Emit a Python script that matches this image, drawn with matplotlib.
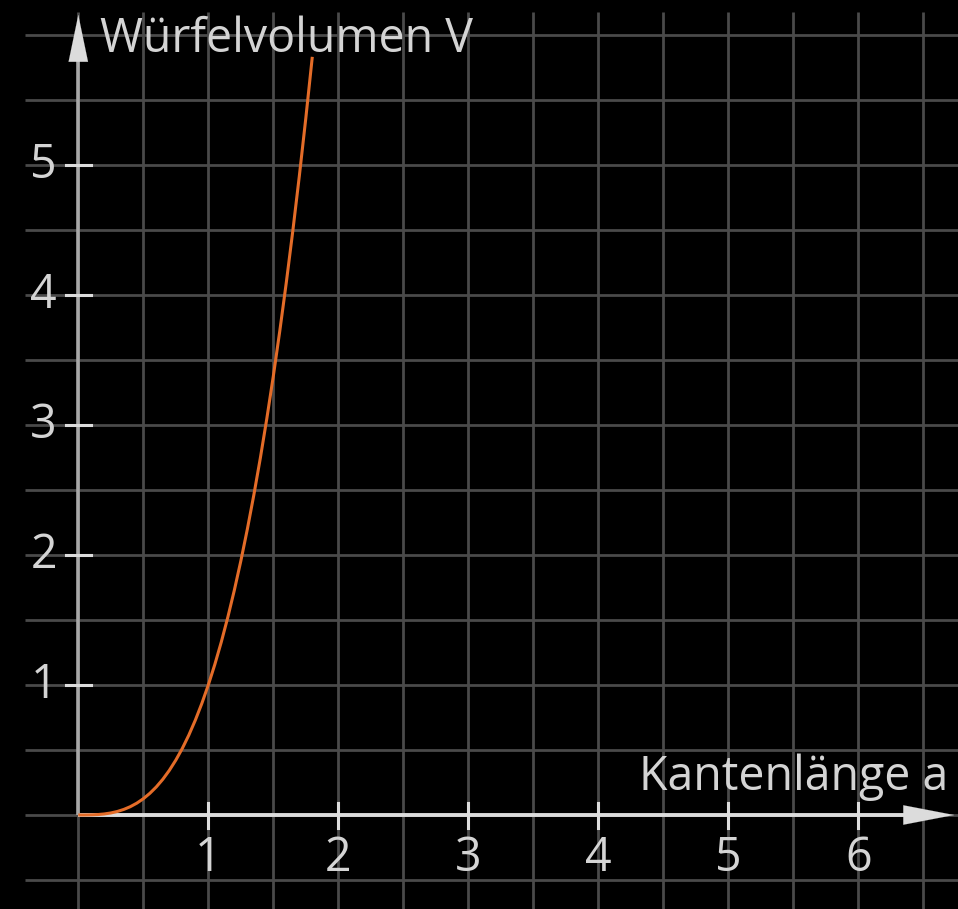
import matplotlib
matplotlib.use("Agg")
import matplotlib.pyplot as plt
import numpy as np

# Data: cube volume V over edge length a
edge_a = [0.0, 0.05, 0.1, 0.15, 0.2, 0.25, 0.3, 0.35, 0.4, 0.45, 0.5, 0.55, 0.6,
          0.65, 0.7, 0.75, 0.8, 0.85, 0.9, 0.95, 1.0, 1.05, 1.1, 1.15, 1.2, 1.25,
          1.3, 1.35, 1.4, 1.45, 1.5, 1.55, 1.6, 1.65, 1.7, 1.75, 1.8]
volume_v = [0.0, 0.0001, 0.001, 0.0034, 0.008, 0.0156, 0.027, 0.0429, 0.064, 0.0911,
            0.125, 0.1664, 0.216, 0.2746, 0.343, 0.4219, 0.512, 0.6141, 0.729, 0.8574,
            1.0, 1.1576, 1.331, 1.5209, 1.728, 1.9531, 2.197, 2.4604, 2.744, 3.0486,
            3.375, 3.7239, 4.096, 4.4921, 4.913, 5.3594, 5.832]
x_ticks = [1, 2, 3, 4, 5, 6]
y_ticks = [1, 2, 3, 4, 5]
x_title = "Kantenlänge a"
y_title = "Würfelvolumen V"

W, H = 958, 909
fig = plt.figure(figsize=(W / 100, H / 100), dpi=100, facecolor="black")
ax = fig.add_axes([0, 0, 1, 1])
ax.set_facecolor("black")
ax.axis("off")

ppu = 130.0
x0px, y0px = 78.3, 815.0
ax.set_xlim(-x0px / ppu, (W - x0px) / ppu)
ax.set_ylim(-(H - y0px) / ppu, y0px / ppu)
xmin, xmax = ax.get_xlim()
ymin, ymax = ax.get_ylim()

grid_col = "#4a4a4a"
grid_lw = 2.0
# vertical grid lines
for gx in np.arange(0, 6.51, 0.5):
    ax.plot([gx, gx], [ymin, 6.18], color=grid_col, lw=grid_lw, solid_capstyle="butt", zorder=1)
# horizontal grid lines
for gy in np.arange(-0.5, 6.01, 0.5):
    ax.plot([-0.41, xmax], [gy, gy], color=grid_col, lw=grid_lw, solid_capstyle="butt", zorder=1)

# axes
ax.plot([0, 6.45], [0, 0], color="#dcdcdc", lw=2.8, solid_capstyle="butt", zorder=3)
ax.plot([0, 0], [0, 5.9], color="#a8a8a8", lw=2.6, solid_capstyle="butt", zorder=3)
# arrow heads
ax.annotate("", xy=((957 - x0px) / ppu, 0), xytext=((900 - x0px) / ppu, 0),
            arrowprops=dict(arrowstyle="-|>,head_length=2.6,head_width=0.5",
                            mutation_scale=14, color="#dcdcdc", lw=0.1), zorder=4)
ax.annotate("", xy=(0, (y0px - 12) / ppu), xytext=(0, (y0px - 70) / ppu),
            arrowprops=dict(arrowstyle="-|>,head_length=2.4,head_width=0.5",
                            mutation_scale=14, color="#dcdcdc", lw=0.1), zorder=4)

# ticks
tick_half = 12.5 / ppu
for t in x_ticks:
    ax.plot([t, t], [-tick_half, tick_half], color="#dcdcdc", lw=2.2, zorder=3)
for t in y_ticks:
    ax.plot([-tick_half, tick_half], [t, t], color="#dcdcdc", lw=2.2, zorder=3)

font = dict(family=["Open Sans", "DejaVu Sans"], color="#d4d4d4", fontsize=33.5, fontweight="normal")
for t in x_ticks:
    ax.text(t, -(858 - y0px) / ppu, str(t), ha="center", va="center", zorder=5, **font)
for t in y_ticks:
    ax.text(-(x0px - 57) / ppu, t, str(t), ha="right", va="center", zorder=5, **font)

ax.text((100 - x0px) / ppu, (y0px - 52) / ppu, y_title, ha="left", va="baseline", zorder=5, **font)
ax.text((948 - x0px) / ppu, (y0px - 790) / ppu, x_title, ha="right", va="baseline", zorder=5, **font)

# curve
ax.plot(edge_a, volume_v, color="#e46c28", lw=2.2, zorder=6, solid_capstyle="butt")

fig.savefig("out.png", dpi=100, facecolor="black")
